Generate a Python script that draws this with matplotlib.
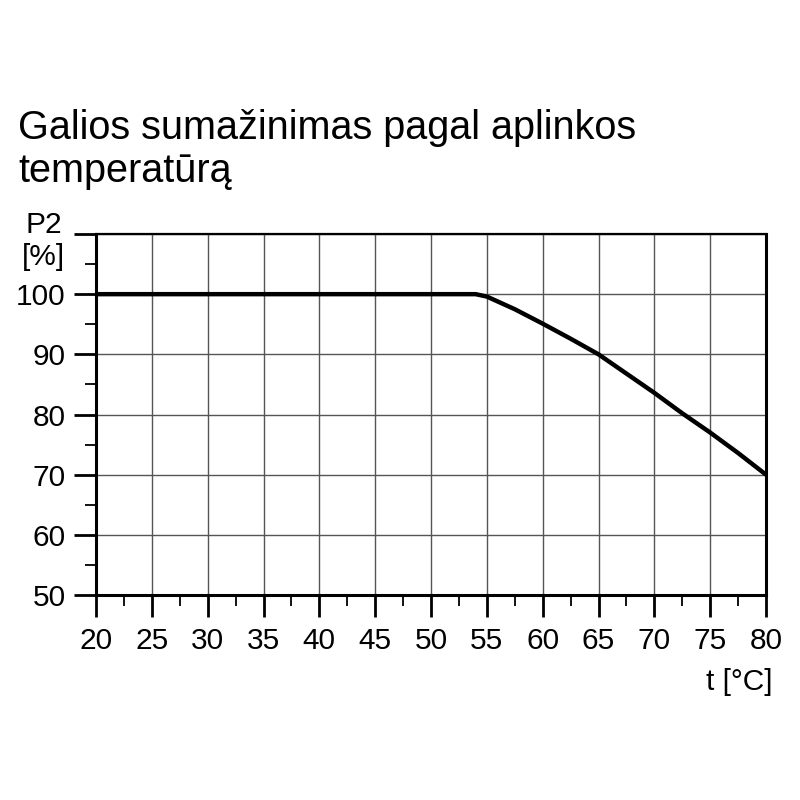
import numpy as np
import matplotlib
matplotlib.use("Agg")
import matplotlib.pyplot as plt
from matplotlib.ticker import MultipleLocator

# power derating vs ambient temperature
temp = [20, 54, 55, 57.5, 60, 62.5, 65, 67.5, 70, 72.5, 75, 77.5, 80]
power = [100, 100, 99.6, 97.5, 95.1, 92.6, 90.0, 86.8, 83.6, 80.2, 77.0, 73.6, 70.0]

x_ticks = [20, 25, 30, 35, 40, 45, 50, 55, 60, 65, 70, 75, 80]
y_ticks = [50, 60, 70, 80, 90, 100, 110]
y_labels = ["50", "60", "70", "80", "90", "100", ""]

title_lines = ["Galios sumažinimas pagal aplinkos", "temperatūrą"]

plt.rcParams['font.family'] = ['Liberation Sans', 'DejaVu Sans']

fig = plt.figure(figsize=(8, 8), dpi=100)
ax = fig.add_axes([0.12, 0.25625, 0.8375, 0.45125])

ax.plot(temp, power, color="black", lw=3.2, solid_capstyle="butt", zorder=3)

ax.set_xlim(20, 80)
ax.set_ylim(50, 110)
ax.set_xticks(x_ticks)
ax.set_yticks(y_ticks)
ax.set_yticklabels(y_labels)
ax.xaxis.set_minor_locator(MultipleLocator(2.5))
ax.yaxis.set_minor_locator(MultipleLocator(5))

ax.tick_params(which="major", direction="out", length=16, width=2.0,
               labelsize=21.5, color="black")
ax.tick_params(axis="x", which="major", pad=7)
ax.tick_params(axis="y", which="major", pad=6)
ax.tick_params(which="minor", direction="out", length=8, width=1.3, color="black")

ax.grid(True, which="major", color="#555555", lw=1.0)
for side in ["left", "bottom", "right"]:
    ax.spines[side].set_linewidth(2.2)
ax.spines["top"].set_linewidth(1.6)

fig.text(0.078, 1 - 233 / 800, "P2", ha="right", va="baseline", fontsize=21.5)
fig.text(0.081, 1 - 265 / 800, "[%]", ha="right", va="baseline", fontsize=21.5)
fig.text(0.965, 1 - 690 / 800, "t [°C]", ha="right", va="baseline", fontsize=21.5)

fig.text(0.0225, 1 - 139 / 800, title_lines[0], ha="left", va="baseline", fontsize=28.5)
fig.text(0.0225, 1 - 182 / 800, title_lines[1], ha="left", va="baseline", fontsize=28.5)

fig.savefig("out.png", dpi=100)
